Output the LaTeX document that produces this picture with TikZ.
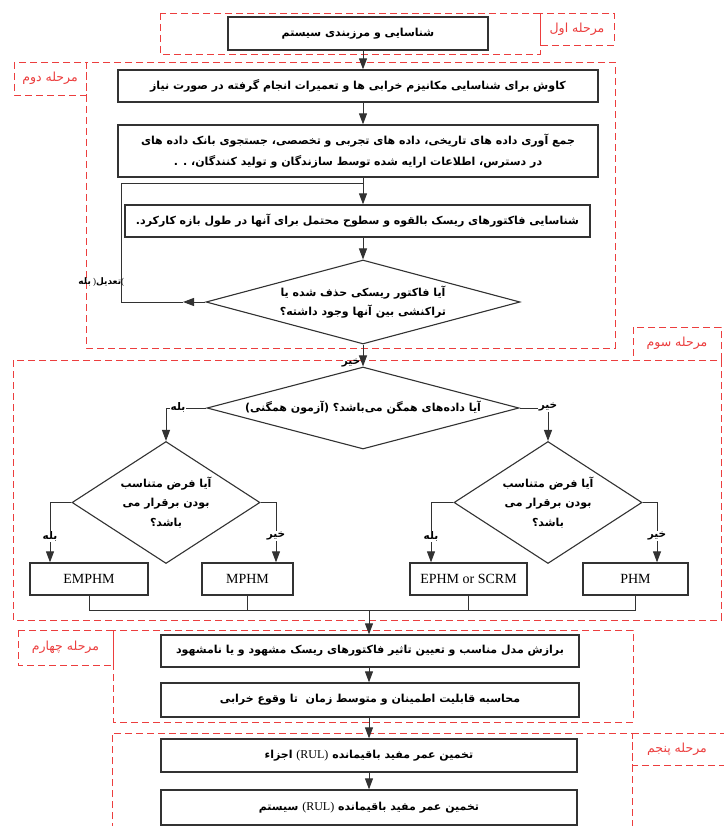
\documentclass[tikz,border=0pt]{standalone}
\usepackage{fontspec}
\setmainfont{Liberation Serif}
\newfontfamily\fa[Script=Arabic]{DejaVu Sans}
\TeXXeTstate=1
\usetikzlibrary{arrows.meta,shapes.geometric}
\newcommand{\FA}[1]{{\fa\beginR #1\endR}}
\definecolor{stagered}{RGB}{236,62,62}
\definecolor{boxline}{RGB}{50,50,50}
\tikzset{
  stage/.style={draw=stagered, line width=0.9pt, dash pattern=on 7pt off 4pt},
  stagelab/.style={text=stagered, font=\fa\fontsize{12.5}{14}\selectfont, inner sep=0pt},
  box/.style={draw=boxline, line width=1.3pt, fill=white, inner sep=0pt, align=center,
    font=\fa\bfseries\fontsize{11}{21}\selectfont},
  latinbox/.style={draw=boxline, line width=1.3pt, fill=white, inner sep=0pt,
    font=\fontsize{14}{16}\selectfont},
  dia/.style={diamond, draw=boxline, line width=1.1pt, fill=white, inner sep=0pt, align=center,
    font=\fa\bfseries\fontsize{11}{19.5}\selectfont},
  conn/.style={draw=boxline, line width=1pt},
  arr/.style={conn, -{Triangle[length=11pt,width=8pt]}},
  yn/.style={fill=white, inner sep=0.6pt, font=\fa\bfseries\fontsize{10.5}{12}\selectfont}
}
\begin{document}
\begin{tikzpicture}[x=1pt,y=-1pt]
\useasboundingbox (0,0) rectangle (723,826);
\fill[white] (0,0) rectangle (723,826);
% stages
\draw[stage] (160,13) rectangle (540,54);
\draw[stage] (540,13) rectangle (614,45);
\node[stagelab] (s1) at (577,29) {\FA{مرحله اول}};
\draw[stage] (86,62) rectangle (615,348);
\draw[stage] (14,62) rectangle (86,95);
\node[stagelab] (s2) at (50,78.5) {\FA{مرحله دوم}};
\draw[stage] (13,360) rectangle (721,620);
\draw[stage] (633,327) rectangle (721,360);
\node[stagelab] (s3) at (677,343.5) {\FA{مرحله سوم}};
\draw[stage] (113,630) rectangle (633,722);
\draw[stage] (18,630) rectangle (113,665);
\node[stagelab] (s4) at (65.5,647.5) {\FA{مرحله چهارم}};
\draw[stage] (112,830) -- (112,733) -- (632,733) -- (632,830);
\draw[stage] (632,733) -- (726,733) (726,765) -- (632,765) -- (632,733);
\node[stagelab] (s5) at (677,749) {\FA{مرحله پنجم}};
% boxes
\node[box, minimum width=260pt, minimum height=33pt] (b1) at (358,33.5) {\FA{شناسایی و مرزبندی سیستم}};
\node[box, minimum width=480pt, minimum height=32pt] (b2) at (358,86) {\FA{کاوش برای شناسایی مکانیزم خرابی ها و تعمیرات انجام گرفته در صورت نیاز}};
\node[box, minimum width=480pt, minimum height=52pt] (b3) at (358,151) {\FA{جمع آوری داده های تاریخی، داده های تجربی و تخصصی، جستجوی بانک داده های}\\\FA{در دسترس، اطلاعات ارایه شده توسط سازندگان و تولید کنندگان، . .}};
\node[box, minimum width=465pt, minimum height=32pt] (b4) at (357.5,221) {\FA{شناسایی فاکتورهای ریسک بالقوه و سطوح محتمل برای آنها در طول بازه کارکرد.}};
\node[dia, aspect=3.7, minimum width=314pt, minimum height=84pt] (d1) at (363,302) {\FA{آیا فاکتور ریسکی حذف شده یا}\\\FA{تراکنشی بین آنها وجود داشته؟}};
\node[dia, aspect=3.8, minimum width=312pt, minimum height=82pt] (d2) at (363,408) {\FA{آیا داده‌های همگن می‌باشد؟ (آزمون همگنی)}};
\node[dia, aspect=1.5, minimum width=188pt, minimum height=122pt] (d3) at (166,502.5) {\FA{آیا فرض متناسب}\\\FA{بودن برقرار می}\\\FA{باشد؟}};
\node[dia, aspect=1.5, minimum width=188pt, minimum height=122pt] (d4) at (548,502.5) {\FA{آیا فرض متناسب}\\\FA{بودن برقرار می}\\\FA{باشد؟}};
\node[latinbox, minimum width=118pt, minimum height=32pt] (e1) at (89,579) {EMPHM};
\node[latinbox, minimum width=91pt, minimum height=32pt] (e2) at (247.5,579) {MPHM};
\node[latinbox, minimum width=117pt, minimum height=32pt] (e3) at (468.5,579) {EPHM or SCRM};
\node[latinbox, minimum width=105pt, minimum height=32pt] (e4) at (635.5,579) {PHM};
\node[box, minimum width=418pt, minimum height=32pt] (b5) at (370,651) {\FA{برازش مدل مناسب و تعیین تاثیر فاکتورهای ریسک مشهود و یا نامشهود}};
\node[box, minimum width=418pt, minimum height=34pt] (b6) at (370,700) {\FA{محاسبه قابلیت اطمینان و متوسط زمان ~تا وقوع خرابی}};
\node[box, minimum width=416pt, minimum height=33pt] (b7) at (369,755.5) {\FA{تخمین عمر مفید باقیمانده \beginL{\rmfamily\mdseries\fontsize{12}{14}\selectfont (RUL)}\endL{} اجزاء}};
\node[box, minimum width=416pt, minimum height=35pt] (b8) at (369,807.5) {\FA{تخمین عمر مفید باقیمانده \beginL{\rmfamily\mdseries\fontsize{12}{14}\selectfont (RUL)}\endL{} سیستم}};
% main connectors
\draw[arr] (b1.south -| d1.north) -- (b2.north -| d1.north);
\draw[arr] (b2.south -| d1.north) -- (b3.north -| d1.north);
\draw[arr] (b3.south -| d1.north) -- (b4.north -| d1.north);
\draw[arr] (b4.south -| d1.north) -- (d1.north);
% feedback
\coordinate (fbtip) at (183,302);
\coordinate (fbc) at (121,302);
\coordinate (fbj) at (363,184);
\draw[arr] (d1.west) -- (fbtip);
\draw[conn] (fbtip) -- (fbc) |- (fbj);
\node[yn, fill=none, anchor=east, font=\fontsize{9}{11}\selectfont] (fbl) at (125,282) {{\fa\bfseries\beginR بله\endR} ){\fa\bfseries\beginR تعدیل\endR}(};
% d1 -> d2
\draw[arr] (d1.south) -- (d2.north);
\node[yn, fill=none] (no1) at (351,363) {\FA{خیر}};
% d2 -> d3, d4
\draw[arr] (d2.west) -| (d3.north);
\node[yn] (y2) at (178,407) {\FA{بله}};
\draw[arr] (d2.east) -| (d4.north);
\node[yn] (n2) at (548,407) {\FA{خیر}};
% d3 -> e1, e2
\coordinate (c3l) at (50,502.5);
\coordinate (c3r) at (276,502.5);
\draw[arr] (d3.west) -- (c3l) -- (c3l |- e1.north);
\node[yn] (y3) at (50,536) {\FA{بله}};
\draw[arr] (d3.east) -- (c3r) -- (c3r |- e2.north);
\node[yn] (n3) at (276,536) {\FA{خیر}};
% d4 -> e3, e4
\coordinate (c4l) at (431,502.5);
\coordinate (c4r) at (657,502.5);
\draw[arr] (d4.west) -- (c4l) -- (c4l |- e3.north);
\node[yn] (y4) at (431,536) {\FA{بله}};
\draw[arr] (d4.east) -- (c4r) -- (c4r |- e4.north);
\node[yn] (n4) at (657,536) {\FA{خیر}};
% merge
\coordinate (mrg) at (369,610);
\draw[conn] (e1.south) -- (e1.south |- mrg) -- (e4.south |- mrg) -- (e4.south);
\draw[conn] (e2.south) -- (e2.south |- mrg);
\draw[conn] (e3.south) -- (e3.south |- mrg);
\draw[arr] (mrg) -- (b5.north -| mrg);
\draw[arr] (b5.south -| mrg) -- (b6.north -| mrg);
\draw[arr] (b6.south -| mrg) -- (b7.north -| mrg);
\draw[arr] (b7.south -| mrg) -- (b8.north -| mrg);
\end{tikzpicture}
\end{document}
